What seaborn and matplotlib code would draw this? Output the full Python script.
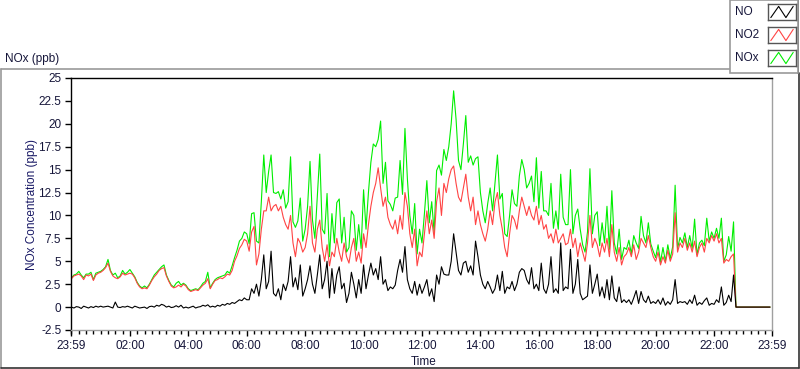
import pandas as pd
import numpy as np
import matplotlib
matplotlib.use("Agg")
import matplotlib.pyplot as plt
import matplotlib.dates as mdates
from matplotlib.lines import Line2D
from matplotlib.patches import Rectangle
from matplotlib.ticker import FixedLocator, FuncFormatter
import seaborn as sns

# 5-minute readings from 00:00, one row per hour (ppb)
NO2_ppb = [
    3.1, 3.4, 3.5, 3.6, 3.4, 3.0, 3.5, 3.4, 3.6, 2.9, 3.5, 3.7,          # 00
    3.8, 4.0, 4.3, 4.8, 3.9, 3.4, 3.2, 3.1, 3.3, 3.7, 3.5, 3.6,          # 01
    3.7, 3.6, 3.2, 2.6, 2.2, 2.0, 2.1, 2.0, 2.4, 2.9, 3.3, 3.6,          # 02
    4.0, 4.2, 4.3, 3.4, 2.8, 2.3, 2.1, 2.2, 2.4, 2.2, 2.5, 2.3,          # 03
    1.9, 1.7, 1.8, 1.9, 1.8, 2.1, 2.4, 2.6, 3.1, 2.0, 2.5, 2.9,          # 04
    3.0, 3.2, 3.1, 3.3, 3.6, 3.5, 4.0, 5.0, 5.6, 6.4, 6.8, 7.4,          # 05
    7.2, 6.1, 8.2, 8.8, 4.6, 5.8, 8.5, 10.5, 10.5, 12.0, 10.5, 11.0,     # 06
    11.2, 10.5, 11.0, 9.8, 9.0, 8.5, 10.0, 7.0, 5.5, 7.5, 7.0, 6.0,      # 07
    6.5, 8.0, 11.0, 7.0, 6.0, 8.5, 9.5, 6.5, 5.0, 6.8, 4.5, 6.0,         # 08
    5.5, 7.5, 6.0, 5.0, 7.0, 5.5, 4.8, 6.5, 7.5, 5.0, 6.0, 4.8,          # 09
    8.0, 6.5, 9.0, 11.0, 12.5, 13.5, 15.2, 13.0, 11.0, 12.0, 9.8, 9.0,   # 10
    8.5, 9.5, 8.0, 10.0, 8.5, 12.5, 11.0, 8.0, 6.5, 8.5, 4.5, 6.0,       # 11
    5.5, 8.0, 10.5, 8.0, 9.5, 7.5, 11.5, 13.0, 10.0, 13.5, 12.5, 14.0,   # 12
    15.0, 15.4, 13.5, 12.0, 11.5, 13.0, 14.5, 12.0, 10.5, 12.0, 9.0, 10.5,  # 13
    9.0, 8.0, 7.2, 8.5, 10.5, 9.0, 11.5, 12.5, 10.0, 8.5, 6.5, 5.5,      # 14
    8.0, 10.0, 9.5, 8.5, 10.5, 12.0, 11.0, 10.0, 11.0, 10.0, 9.5, 11.0,  # 15
    9.0, 10.0, 8.5, 9.0, 7.5, 8.0, 7.0, 8.5, 7.0, 7.5, 8.0, 6.8,         # 16
    7.0, 8.5, 6.5, 7.5, 5.5, 7.0, 6.0, 5.0, 7.0, 10.0, 6.5, 7.5,         # 17
    6.8, 5.5, 7.0, 6.0, 7.5, 5.5, 9.0, 6.0, 5.0, 6.5, 4.6, 5.5,          # 18
    5.8, 6.5, 5.5, 6.8, 5.2, 6.0, 7.5, 7.0, 6.5, 7.8, 6.5, 5.5,          # 19
    5.0, 6.0, 4.6, 5.5, 4.8, 6.2, 5.0, 5.8, 10.3, 6.0, 7.0, 6.5,         # 20
    7.5, 6.2, 7.0, 6.0, 7.2, 5.5, 6.5, 7.0, 6.0, 7.5, 7.0, 7.8,          # 21
    7.2, 8.0, 7.0, 7.5, 4.8, 5.2, 5.0, 5.5, 5.8, 0, 0, 0,                # 22
    0, 0, 0, 0, 0, 0, 0, 0, 0, 0, 0, 0,                                  # 23
]

NO_ppb = [
    0.0, -0.1, 0.05, 0.0, -0.15, 0.1, 0.0, -0.1, 0.05, -0.05, 0.1, 0.0,  # 00
    0.1, 0.0, 0.05, 0.1, 0.0, -0.1, 0.55, 0.0, -0.05, 0.05, 0.0, 0.1,    # 01
    0.0, -0.1, 0.1, 0.0, -0.1, -0.05, 0.0, -0.15, 0.05, 0.1, 0.0, 0.2,   # 02
    0.1, 0.3, 0.2, 0.0, 0.1, -0.05, 0.0, 0.15, 0.0, 0.2, -0.1, 0.0,      # 03
    -0.1, 0.0, 0.1, -0.1, 0.0, 0.05, 0.2, 0.1, 0.25, 0.0, 0.1, 0.0,      # 04
    0.2, 0.1, 0.3, 0.2, 0.4, 0.3, 0.5, 0.4, 0.6, 0.8, 0.7, 1.0,          # 05
    0.8, 0.8, 2.0, 1.5, 2.5, 1.2, 3.0, 5.7, 2.0, 2.8, 6.1, 1.5,          # 06
    1.2, 2.0, 0.8, 2.5, 1.8, 2.8, 5.5, 2.2, 3.2, 1.9, 4.6, 1.2,          # 07
    2.0, 3.0, 4.5, 2.5, 1.5, 3.5, 5.7, 2.0, 3.0, 5.0, 1.0, 4.2,          # 08
    1.5, 3.5, 4.4, 2.0, 2.6, 0.5, 1.5, 3.8, 2.5, 1.0, 3.0, 1.5,          # 09
    4.6, 2.0, 3.5, 4.8, 3.5, 4.2, 3.0, 5.5, 2.5, 3.0, 1.8, 2.2,          # 10
    2.0, 2.4, 4.0, 5.2, 3.8, 6.6, 3.0, 2.0, 1.5, 2.8, 1.3, 2.5,          # 11
    1.5, 2.2, 3.0, 1.2, 2.0, 0.6, 3.5, 2.5, 4.4, 3.6, 3.5, 3.5,          # 12
    5.0, 8.0, 6.0, 4.0, 3.5, 4.8, 5.0, 3.8, 4.5, 3.5, 7.2, 5.5,          # 13
    3.5, 2.5, 2.0, 2.8, 2.2, 1.5, 2.0, 3.5, 1.8, 3.9, 1.5, 2.2,          # 14
    2.0, 2.8, 1.8, 2.5, 3.8, 4.2, 4.0, 3.0, 2.5, 4.3, 2.0, 2.5,          # 15
    1.8, 4.8, 2.0, 1.5, 2.5, 5.5, 1.6, 2.0, 1.5, 7.0, 1.8, 2.2,          # 16
    2.0, 6.3, 1.5, 2.5, 5.2, 1.5, 0.8, 1.0, 1.2, 4.6, 1.5, 2.5,          # 17
    3.6, 1.2, 2.2, 1.0, 3.0, 0.8, 3.4, 1.0, 0.6, 2.2, 0.5, 0.8,          # 18
    0.5, 0.8, 0.3, 1.0, 1.8, 0.4, 1.7, 0.8, 0.5, 1.2, 0.4, 0.6,          # 19
    0.4, 0.8, 0.3, 1.0, 0.2, 0.6, 0.3, 0.8, 3.0, 0.4, 0.6, 0.5,          # 20
    0.6, 0.3, 0.8, 0.4, 1.3, 0.2, 0.5, 0.3, 0.7, 1.0, 0.2, 0.4,          # 21
    0.3, 0.8, 0.5, 2.2, 0.2, 0.5, 1.3, 0.6, 3.5, 0, 0, 0,                # 22
    0, 0, 0, 0, 0, 0, 0, 0, 0, 0, 0, 0,                                  # 23
]

NOX_ppb = [
    3.2, 3.5, 3.6, 3.9, 3.5, 3.2, 3.6, 3.6, 3.8, 3.0, 3.7, 3.8,          # 00
    3.9, 4.1, 4.4, 5.2, 4.0, 3.5, 3.7, 3.2, 3.4, 4.0, 3.6, 3.8,          # 01
    4.1, 3.7, 3.3, 2.7, 2.3, 2.1, 2.3, 2.1, 2.5, 3.0, 3.5, 3.8,          # 02
    4.1, 4.4, 4.6, 3.5, 2.9, 2.4, 2.2, 2.6, 2.8, 2.4, 2.6, 2.4,          # 03
    2.0, 1.8, 1.9, 2.0, 1.9, 2.2, 2.6, 2.8, 3.8, 2.1, 2.6, 3.0,          # 04
    3.2, 3.3, 3.4, 3.5, 3.9, 3.7, 4.5, 5.4, 6.2, 7.2, 7.5, 8.2,          # 05
    8.0, 6.9, 10.2, 10.3, 7.2, 7.0, 11.5, 16.6, 12.5, 14.8, 16.6, 12.5,  # 06
    12.4, 12.6, 11.8, 12.8, 10.8, 11.5, 16.4, 9.3, 8.7, 9.4, 11.9, 7.2,  # 07
    8.5, 11.0, 15.9, 9.5, 7.5, 12.0, 16.7, 8.5, 8.0, 12.4, 5.5, 10.2,    # 08
    7.0, 11.4, 11.8, 7.0, 9.8, 6.0, 6.5, 10.5, 10.0, 6.2, 9.0, 6.4,      # 09
    12.8, 8.5, 12.5, 15.8, 17.8, 17.5, 18.3, 20.3, 13.5, 15.8, 11.6, 11.2,  # 10
    10.5, 11.9, 12.0, 16.0, 12.3, 19.5, 14.0, 10.0, 8.0, 11.3, 5.8, 8.5,    # 11
    7.0, 10.2, 13.8, 9.2, 11.5, 8.1, 14.9, 15.5, 14.4, 17.2, 16.0, 17.5,    # 12
    20.0, 23.6, 20.5, 16.0, 15.0, 17.8, 20.9, 15.8, 16.5, 15.5, 16.2, 16.4, # 13
    12.5, 10.5, 9.2, 11.3, 13.0, 10.5, 13.5, 16.6, 11.8, 12.4, 8.0, 7.7,    # 14
    10.0, 12.8, 11.3, 11.0, 14.3, 16.1, 15.0, 13.0, 13.5, 14.3, 11.5, 16.3, # 15
    10.8, 14.8, 10.5, 10.5, 10.0, 13.5, 8.6, 10.5, 8.5, 14.5, 9.8, 9.0,     # 16
    9.0, 15.0, 8.0, 10.0, 10.7, 8.5, 6.8, 6.0, 8.2, 15.1, 8.0, 10.0,     # 17
    10.4, 6.7, 9.2, 7.0, 11.0, 6.3, 12.7, 7.0, 5.8, 8.5, 5.2, 6.5,       # 18
    6.3, 7.3, 5.8, 7.8, 7.0, 6.4, 9.9, 7.8, 7.0, 9.2, 6.9, 6.1,          # 19
    5.4, 6.8, 4.9, 6.5, 5.0, 6.8, 5.3, 6.6, 13.3, 6.4, 7.6, 7.0,         # 20
    8.1, 6.5, 7.8, 6.4, 9.6, 5.7, 7.0, 7.3, 6.7, 9.7, 7.2, 8.2,          # 21
    7.5, 8.6, 7.5, 9.7, 5.0, 5.7, 7.7, 6.1, 9.3, 0, 0, 0,                # 22
    0, 0, 0, 0, 0, 0, 0, 0, 0, 0, 0, 0,                                  # 23
]

Y_TICKS = [-2.5, 0, 2.5, 5, 7.5, 10, 12.5, 15, 17.5, 20, 22.5, 25]
X_START = "2024-01-01 23:59"
X_END = "2024-01-02 23:59"
X_HOURS = ["02:00", "04:00", "06:00", "08:00", "10:00", "12:00",
           "14:00", "16:00", "18:00", "20:00", "22:00"]

times = pd.date_range("2024-01-02 00:00", periods=len(NO2_ppb), freq="5min")
df = pd.DataFrame({"time": times, "NO": NO_ppb, "NO2": NO2_ppb, "NOx": NOX_ppb})

sns.set_style("white")
plt.rcParams["font.family"] = ["Liberation Sans", "DejaVu Sans"]
txt = "#16163a"

W, H = 800, 369
fig = plt.figure(figsize=(W / 100, H / 100), dpi=100)
ax = fig.add_axes([71 / W, 1 - 330 / H, 701 / W, 252 / H])

sns.lineplot(data=df, x="time", y="NOx", color="#00ee00", lw=0.8, ax=ax)
sns.lineplot(data=df, x="time", y="NO2", color="#ff4444", lw=0.8, ax=ax)
sns.lineplot(data=df, x="time", y="NO", color="black", lw=0.8, ax=ax)

x0, x1 = pd.Timestamp(X_START), pd.Timestamp(X_END)
ax.set_xlim(x0, x1)
ax.set_ylim(-2.5, 25)
major = [x0] + [pd.Timestamp("2024-01-02 " + h) for h in X_HOURS] + [x1]
ax.xaxis.set_major_locator(FixedLocator(mdates.date2num(major)))
ax.xaxis.set_major_formatter(mdates.DateFormatter("%H:%M"))
ax.xaxis.set_minor_locator(mdates.MinuteLocator(byminute=[0, 15, 30, 45]))
ax.set_yticks(Y_TICKS)
ax.yaxis.set_major_formatter(FuncFormatter(lambda v, p: f"{v:g}"))
ax.tick_params(axis="both", which="major", direction="out", length=4, width=1,
               color="black", labelsize=8.5, labelcolor=txt, pad=3)
ax.tick_params(axis="x", which="minor", direction="out", length=3, width=1, color="black")
ax.tick_params(axis="x", which="both", bottom=True)
ax.tick_params(axis="y", which="both", left=True)
ax.set_xlabel("")
ax.set_ylabel("")
for side, col in [("top", "black"), ("left", "black"), ("right", "#a0a0a0"), ("bottom", "#a0a0a0")]:
    ax.spines[side].set_color(col)
    ax.spines[side].set_linewidth(1)

fig.text(5 / W, 1 - 59 / H, "NOx (ppb)", fontsize=8.5, color=txt, va="center", ha="left")
fig.text(32 / W, 1 - 204 / H, "NOx Concentration (ppb)", rotation=90, fontsize=8.5,
         color="#1a1a66", ha="center", va="center")
fig.text(424 / W, 1 - 362 / H, "Time", fontsize=8.5, color=txt, ha="center", va="center")

# outer panel frame
def fline(xs, ys, col):
    fig.add_artist(Line2D([x / W for x in xs], [1 - y / H for y in ys], color=col,
                          lw=1.2, transform=fig.transFigure))

fline([0.5, 730], [69, 69], "#9a9a9a")
fline([0.5, 0.5], [69, 368], "#9a9a9a")
fline([0.5, 799], [368, 368], "#333333")
fline([799, 799], [73, 368], "#333333")

# legend box
fig.add_artist(Rectangle((730 / W, 1 - 73 / H), 68 / W, 73 / H, transform=fig.transFigure,
                         facecolor="white", edgecolor="#9a9a9a", lw=1.2, zorder=5))
fline([798, 798], [0, 73], "#333333")
for name, col, ty in [("NO", "black", 12), ("NO2", "#ff4444", 35), ("NOx", "#00ee00", 58)]:
    fig.text(735 / W, 1 - ty / H, name, fontsize=8.5, color=txt, va="center", ha="left", zorder=6)
    sw = fig.add_axes([768 / W, 1 - (ty + 8) / H, 28 / W, 16 / H], zorder=6)
    sw.plot([0.1, 0.38, 0.64, 0.9], [0.15, 0.85, 0.15, 0.85], color=col, lw=0.8)
    sw.set_xlim(0, 1)
    sw.set_ylim(0, 1)
    sw.set_xticks([])
    sw.set_yticks([])
    for s in sw.spines.values():
        s.set_color("#555555")
        s.set_linewidth(1)

fig.savefig("out.png", dpi=100)
